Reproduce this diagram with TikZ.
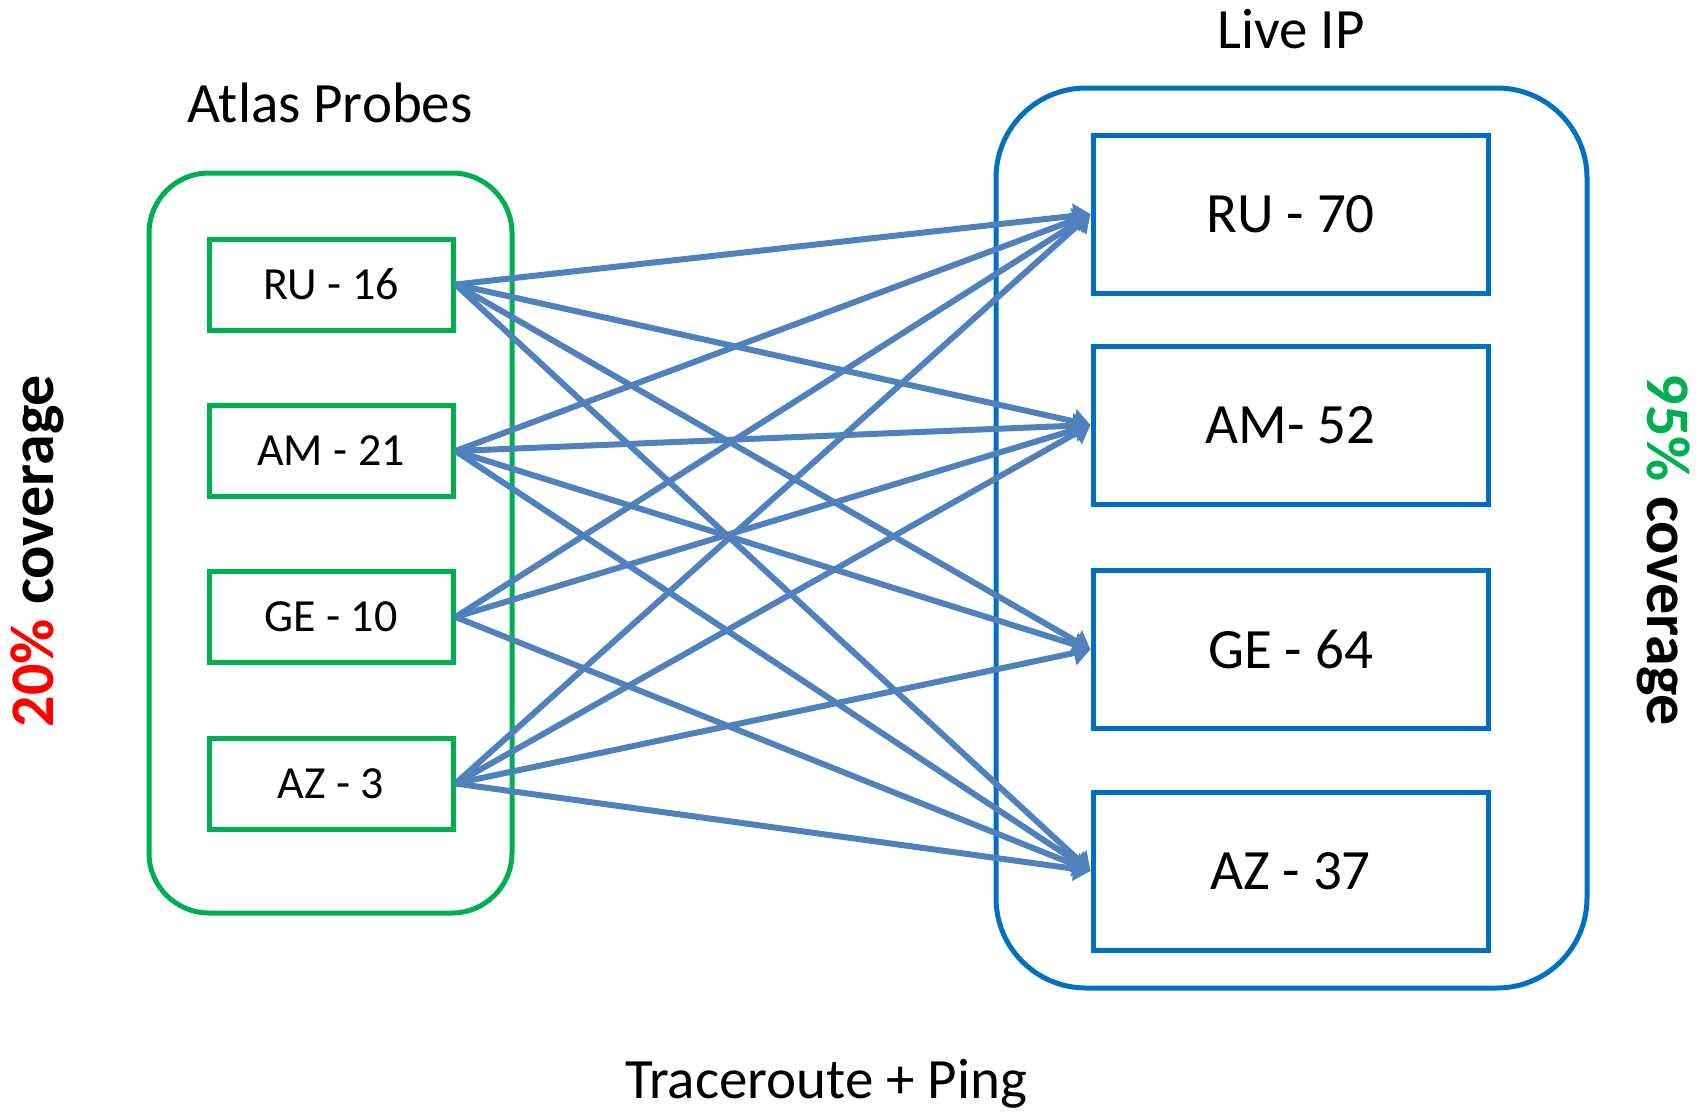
\documentclass[tikz,border=0pt]{standalone}
\usepackage{fontspec}
\setmainfont{Carlito}
\usetikzlibrary{arrows.meta}
\definecolor{pgreen}{HTML}{00B050}
\definecolor{pblue}{HTML}{0070C0}
\definecolor{parrow}{HTML}{4F81BD}
\definecolor{pred}{HTML}{FF0000}
\begin{document}
\begin{tikzpicture}[x=1pt,y=-1pt,
  container/.style={draw, line width=5pt, rounded corners=#1, inner sep=0pt},
  lbox/.style={draw=pgreen, line width=5pt, minimum width=244pt, minimum height=91pt, inner sep=0pt,
    font=\fontsize{46}{55}\selectfont},
  rbox/.style={draw=pblue, line width=5pt, minimum width=395pt, minimum height=158pt, inner sep=0pt,
    font=\fontsize{57}{68}\selectfont},
  title/.style={anchor=base, inner sep=0pt, font=\fontsize{57}{68}\selectfont},
  cover/.style={anchor=base, inner sep=0pt, font=\fontsize{62}{74}\selectfont\bfseries},
  arr/.style={draw=parrow, line width=6pt, -{Triangle[length=17pt,width=24pt]}}
]
\useasboundingbox (0,0) rectangle (1707,1111);
% containers
\node[container=60pt, draw=pgreen, minimum width=363pt, minimum height=740pt] (lc) at (330.5,543) {};
\node[container=90pt, draw=pblue, minimum width=591pt, minimum height=900pt] (rc) at (1291.5,538) {};
% titles
\node[title] (tA) at (330,122) {Atlas Probes};
\node[title] (tL) at (1291,48) {Live IP};
\node[title] (tT) at (826,1098) {Traceroute + Ping};
\node[cover, rotate=90] (c20) at (53,551) {\textcolor{pred}{20\%} coverage};
\node[cover, rotate=-90] (c95) at (1647,550) {\textcolor{pgreen}{95\%} coverage};
% left boxes
\node[lbox] (l1) at (331,284.5) {RU - 16};
\node[lbox] (l2) at (331,451) {AM - 21};
\node[lbox] (l3) at (331,617) {GE - 10};
\node[lbox] (l4) at (331,783.5) {AZ - 3};
% right boxes
\node[rbox] (r1) at (1290.5,214) {RU - 70};
\node[rbox] (r2) at (1290.5,425) {AM- 52};
\node[rbox] (r3) at (1290.5,649.5) {GE - 64};
\node[rbox] (r4) at (1290.5,871) {AZ - 37};
% arrows
\foreach \j in {1,2,3,4}{
  \draw[arr] (l1.east) -- (r\j.west);
  \draw[arr] (l2.east) -- (r\j.west);
  \draw[arr] (l4.east) -- (r\j.west);
}
\draw[arr] (l3.east) -- (r1.west);
\draw[arr] (l3.east) -- (r2.west);
\draw[arr] (l3.east) -- (r4.west);
\end{tikzpicture}
\end{document}
